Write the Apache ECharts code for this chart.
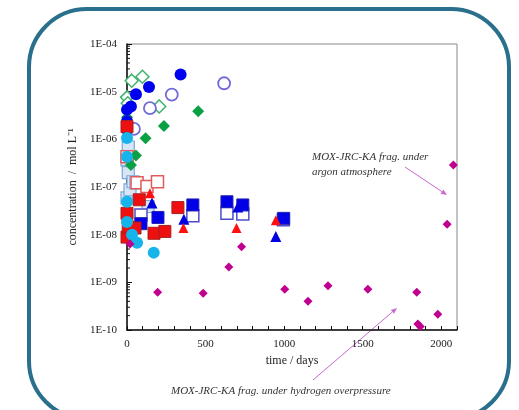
<!DOCTYPE html>
<html>
<head>
<meta charset="utf-8">
<script src="https://cdn.jsdelivr.net/npm/echarts@6/dist/echarts.min.js"></script>
<style>
    html, body { margin: 0; padding: 0; background: #fff; }
    #main { width: 519px; height: 410px; }
</style>
</head>
<body>
<div id="main"></div>
<script>
    // [days, mol/L]
    var blueFilledCircle = [[0, 1.6e-6], [0, 2.4e-6], [0, 4.2e-6], [25, 4.9e-6], [57, 8.8e-6], [140, 1.25e-5], [341, 2.3e-5]];
    var blueOpenCircle = [[44, 1.65e-6], [146, 4.5e-6], [285, 8.7e-6], [618, 1.5e-5]];
    var greenOpenDiamond = [[0, 7.6e-6], [5, 5.7e-6], [30, 1.7e-5], [98, 2.05e-5], [205, 4.9e-6]];
    var greenFilledDiamond = [[0, 2.9e-6], [25, 2.9e-7], [57, 4.6e-7], [118, 1.05e-6], [235, 1.9e-6], [453, 3.9e-6]];
    var redFilledSquare = [[0, 1.85e-6], [0, 2.8e-8], [0, 8.9e-9], [8, 1.45e-8], [51, 1.38e-8], [78, 5.4e-8], [172, 1.07e-8], [241, 1.17e-8], [324, 3.7e-8]];
    var redOpenSquare = [[0, 4.3e-7], [64, 1.23e-7], [127, 1.02e-7], [194, 1.29e-7]];
    var redTriangle = [[146, 7.4e-8], [359, 1.38e-8], [697, 1.38e-8], [947, 2.0e-8]];
    var blueFilledSquare = [[89, 1.7e-8], [197, 2.3e-8], [419, 4.2e-8], [636, 4.9e-8], [737, 4.2e-8], [997, 2.2e-8]];
    var blueOpenSquare = [[89, 2.6e-8], [419, 2.5e-8], [636, 2.8e-8], [737, 2.7e-8], [995, 2.05e-8]];
    var blueTriangle = [[159, 4.6e-8], [362, 2.1e-8], [705, 3.8e-8], [947, 9.1e-9]];
    var cyanCircle = [[0, 1.07e-6], [0, 4.3e-7], [0, 4.9e-8], [0, 1.85e-8], [32, 1.0e-8], [64, 6.8e-9], [170, 4.2e-9]];
    var lightBlueSquare = [[0, 3.7e-7], [0, 5.9e-8], [8, 6.9e-7], [8, 2.0e-7], [19, 8.7e-8], [38, 1.29e-7], [57, 1.22e-7], [134, 3.9e-8]];
    var magentaDiamond = [[19, 6.4e-9], [195, 6.2e-10], [485, 5.9e-10], [648, 2.1e-9], [729, 5.6e-9], [1004, 7.2e-10], [1152, 4.0e-10], [1279, 8.5e-10], [1533, 7.2e-10], [1844, 6.2e-10], [1851, 1.33e-10], [1866, 1.18e-10], [1978, 2.15e-10], [2037, 1.66e-8], [2077, 2.9e-7]];

    var argonLabel = 'MOX-JRC-KA frag. under\nargon atmosphere';
    var hydrogenLabel = 'MOX-JRC-KA frag. under hydrogen overpressure';

    var serif = 'Liberation Serif';

    // log minor ticks 2..9 of every decade
    var minorTicks = [];
    for (var n = -10; n < -4; n++) {
        for (var k = 2; k <= 9; k++) {
            minorTicks.push([0, k * Math.pow(10, n)]);
        }
    }

    function sc(name, data, symbol, size, fill, stroke, lw) {
        return {
            name: name,
            type: 'scatter',
            data: data,
            symbol: symbol,
            symbolSize: size,
            clip: false,
            itemStyle: {
                color: fill,
                borderColor: stroke,
                borderWidth: lw || 0,
                opacity: 1
            }
        };
    }

    // little arrow helper for the annotations
    function arrow(x1, y1, x2, y2, color) {
        var a = Math.atan2(y2 - y1, x2 - x1);
        var L = 6, W = 2.5;
        var bx = x2 - L * Math.cos(a), by = y2 - L * Math.sin(a);
        return [{
            type: 'line',
            shape: { x1: x1, y1: y1, x2: bx, y2: by },
            style: { stroke: color, lineWidth: 1 }
        }, {
            type: 'polygon',
            shape: { points: [[x2, y2],
                [bx + W * Math.sin(a), by - W * Math.cos(a)],
                [bx - W * Math.sin(a), by + W * Math.cos(a)]] },
            style: { fill: color }
        }];
    }

    var chart = echarts.init(document.getElementById('main'));

    var option = {
        animation: false,
        backgroundColor: '#fff',
        grid: {
            left: 127, top: 44, right: 62, bottom: 80,
            show: true, borderColor: '#8a8a8a', borderWidth: 1
        },
        xAxis: {
            type: 'value',
            min: 0, max: 2100, interval: 100,
            name: 'time / days',
            nameLocation: 'middle',
            nameGap: 24,
            nameTextStyle: { fontFamily: serif, fontSize: 12, color: '#222' },
            axisLine: { lineStyle: { color: '#111', width: 1.5 } },
            axisTick: { inside: true, length: 4, lineStyle: { color: '#111' } },
            axisLabel: {
                fontFamily: serif, fontSize: 11, color: '#222', margin: 9,
                formatter: function(v) { return v % 500 === 0 ? String(v) : ''; }
            },
            splitLine: { show: false }
        },
        yAxis: {
            type: 'log',
            logBase: 10,
            min: 1e-10, max: 1e-4,
            name: 'concentration  /  mol L\u207B\u00B9',
            nameLocation: 'middle',
            nameGap: 46,
            nameTextStyle: { fontFamily: serif, fontSize: 12, color: '#222' },
            axisLine: { lineStyle: { color: '#111', width: 1.5 } },
            axisTick: { inside: true, length: 5, lineStyle: { color: '#111' } },
            axisLabel: {
                fontFamily: serif, fontSize: 11, color: '#222', margin: 10,
                formatter: function(v) {
                    var e = -Math.round(Math.log(v) / Math.LN10);
                    return '1E-' + (e < 10 ? '0' + e : e);
                }
            },
            splitLine: { show: false }
        },
        series: [
            {
                type: 'custom',
                data: minorTicks,
                silent: true,
                renderItem: function(params, api) {
                    var p = api.coord([api.value(0), api.value(1)]);
                    return {
                        type: 'line',
                        shape: { x1: p[0], y1: p[1], x2: p[0] + 3, y2: p[1] },
                        style: { stroke: '#111', lineWidth: 1 }
                    };
                }
            },
            sc('lightBlueSquare', lightBlueSquare, 'rect', 12, '#d6e6f7', '#7ea6d6', 1.2),
            sc('greenOpenDiamond', greenOpenDiamond, 'diamond', 13, '#fff', '#3fb36e', 1.5),
            sc('blueOpenCircle', blueOpenCircle, 'circle', 12, '#fff', '#6f6ad8', 1.8),
            sc('redOpenSquare', redOpenSquare, 'rect', 12, '#fff', '#e05a5a', 1.5),
            sc('blueOpenSquare', blueOpenSquare, 'rect', 12, '#fff', '#4d4dcc', 1.5),
            sc('greenFilledDiamond', greenFilledDiamond, 'diamond', 12, '#0aa044', null, 0),
            sc('blueFilledCircle', blueFilledCircle, 'circle', 12, '#0000f0', null, 0),
            sc('blueFilledSquare', blueFilledSquare, 'rect', 12, '#0000e8', '#2020b0', 1),
            sc('blueTriangle', blueTriangle, 'triangle', 11, '#0000e0', null, 0),
            sc('redFilledSquare', redFilledSquare, 'rect', 12, '#ee1010', '#a82020', 1),
            sc('redTriangle', redTriangle, 'triangle', 10, '#ff1010', null, 0),
            sc('cyanCircle', cyanCircle, 'circle', 12, '#15b4ea', null, 0),
            sc('magentaDiamond', magentaDiamond, 'diamond', 9, '#c0008e', null, 0)
        ],
        graphic: [
            {
                type: 'rect',
                shape: { x: 29, y: 9, width: 480, height: 410, r: 58 },
                style: { fill: 'none', stroke: '#2a6f8c', lineWidth: 4 },
                silent: true
            },
            {
                type: 'text', left: 312, top: 150,
                style: { text: argonLabel, font: 'italic 11px "Liberation Serif"', fill: '#333', lineHeight: 15 }
            },
            {
                type: 'text', left: 171, top: 386,
                style: { text: hydrogenLabel, font: 'italic 11px "Liberation Serif"', fill: '#333' }
            }
        ].concat(arrow(405, 167, 447, 195, '#c86ad0'))
         .concat(arrow(313, 380, 397, 308, '#c86ad0'))
    };

    chart.setOption(option);
</script>
</body>
</html>
